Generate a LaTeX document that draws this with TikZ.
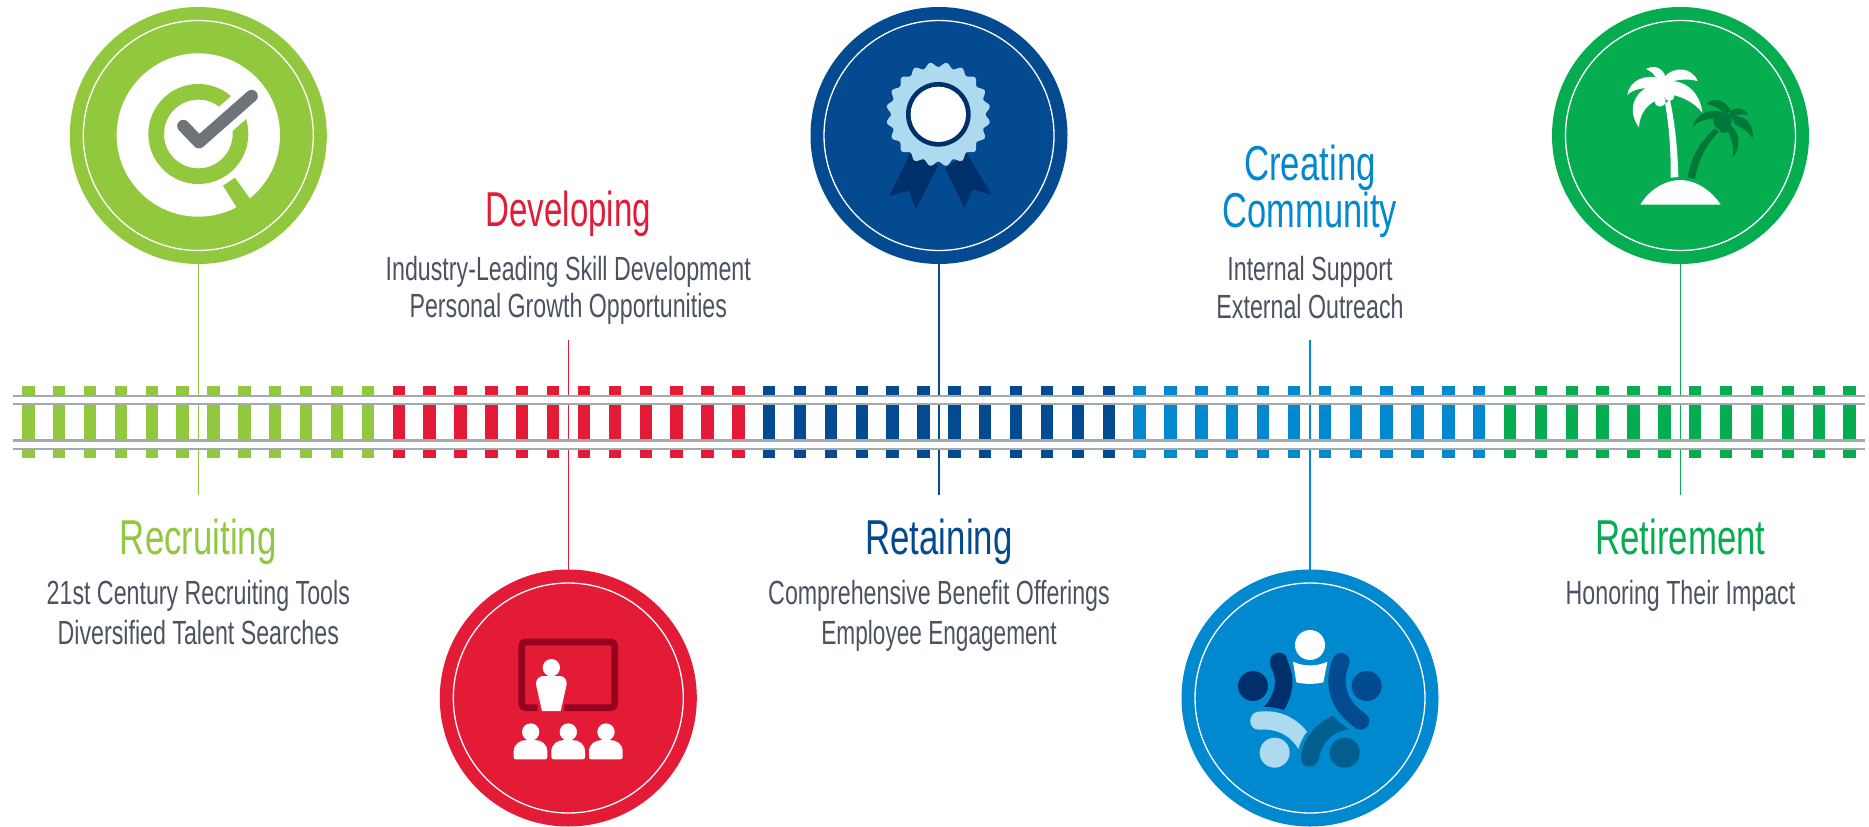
\documentclass[tikz,border=0pt]{standalone}
\usepackage{fontspec}
\newfontfamily\headf[FakeStretch=0.71]{Liberation Sans}
\newfontfamily\bodyf[FakeStretch=0.693]{Liberation Sans}
\definecolor{cgreen}{HTML}{92C83E}
\definecolor{cred}{HTML}{E31B37}
\definecolor{cblue}{HTML}{034A91}
\definecolor{csky}{HTML}{0089CE}
\definecolor{cpalm}{HTML}{05AD50}
\definecolor{crail}{HTML}{A2AAAF}
\definecolor{ctext}{HTML}{4B5360}
\definecolor{ccheck}{HTML}{6D757B}
\definecolor{cdkred}{HTML}{96031E}
\definecolor{cnavy}{HTML}{00306B}
\definecolor{cpale}{HTML}{AEDAF0}
\definecolor{cteal}{HTML}{005F8F}
\definecolor{cdkgreen}{HTML}{00783A}
\tikzset{
  bub/.style={circle,fill=#1,minimum size=257pt,inner sep=0pt,outer sep=0pt,draw=none,
    path picture={\draw[white,line width=1.3pt] (path picture bounding box.center) circle (115pt);}},
  head/.style={font=\headf\fontsize{49}{49}\selectfont,text=#1,anchor=base,inner sep=0pt,outer sep=0pt},
  body/.style={font=\bodyf\fontsize{33.5}{33.5}\selectfont,text=ctext,anchor=base,inner sep=0pt,outer sep=0pt},
  conn/.style={draw=#1,line width=1.4pt},
  ic/.style={x=0.33333pt,y=-0.33333pt}
}
\begin{document}
\begin{tikzpicture}[x=1pt,y=-1pt]
\useasboundingbox (0,0) rectangle (1869,827);
% circles
\node[bub=cgreen] (c1) at (198.3,135.5) {};
\node[bub=cred]   (c2) at (568.3,698) {};
\node[bub=cblue]  (c3) at (939,135.5) {};
\node[bub=csky]   (c4) at (1310,698) {};
\node[bub=cpalm]  (c5) at (1680.5,135.5) {};
% connector free ends
\coordinate (e1) at (198.3,495);
\coordinate (e2) at (568.3,340);
\coordinate (e3) at (939,495);
\coordinate (e4) at (1310,340);
\coordinate (e5) at (1680.5,495);
\draw[conn=cgreen] (c1.south) -- (e1);
\draw[conn=cred]   (c2.north) -- (e2);
\draw[conn=cblue]  (c3.south) -- (e3);
\draw[conn=csky]   (c4.north) -- (e4);
\draw[conn=cpalm]  (c5.south) -- (e5);
% ties
\foreach \i in {0,...,59}{
  \pgfmathtruncatemacro{\g}{int(\i/12)}
  \ifcase\g \def\tc{cgreen}\or \def\tc{cred}\or \def\tc{cblue}\or \def\tc{csky}\else \def\tc{cpalm}\fi
  \pgfmathsetmacro{\xx}{28.3+\i*30.87}
  \fill[\tc] (\xx-6.2,386) rectangle (\xx+6.2,458);
}
% rails
\fill[white] (13,396) rectangle (1865,404);
\fill[white] (13,441) rectangle (1865,449);
\fill[crail] (13,394.5) rectangle (1865,397);
\fill[crail] (13,402.5) rectangle (1865,405);
\fill[crail] (13,439) rectangle (1865,441.5);
\fill[crail] (13,447.5) rectangle (1865,450);
% labels
\node[head=cgreen] (t1) at (198.3,554) {Recruiting};
\node[body] (t1a) at (198.3,604) {21st Century Recruiting Tools};
\node[body] (t1b) at (198.3,644) {Diversified Talent Searches};
\node[head=cred] (t2) at (568.3,226.7) {\scalebox{0.95}[1]{Developing}};
\node[body] (t2a) at (568.3,280) {Industry-Leading Skill Development};
\node[body] (t2b) at (568.3,317.7) {Personal Growth Opportunities};
\node[head=cblue] (t3) at (939,554) {Retaining};
\node[body] (t3a) at (939,604) {Comprehensive Benefit Offerings};
\node[body] (t3b) at (939,644) {\scalebox{0.975}[1]{Employee Engagement}};
\node[head=csky] (t4) at (1310,180) {Creating};
\node[head=csky] (t4b) at (1310,227) {\scalebox{0.99}[1]{Community}};
\node[body] (t4c) at (1310,280) {Internal Support};
\node[body] (t4d) at (1310,318) {External Outreach};
\node[head=cpalm] (t5) at (1680.5,554) {Retirement};
\node[body] (t5a) at (1680.5,604) {Honoring Their Impact};
% --- icon 1
\begin{scope}[shift={(40,0)},ic]
  \fill[white] (475,405) circle (245);
  \fill[cgreen] (549,557) -- (585,533) -- (640,610) -- (598,635) -- cycle;
  \fill[cgreen,even odd rule] (475,402) circle (150) (475,402) circle (103);
  \draw[white,line width=27pt] (500,407) -- (650,275);
  \draw[ccheck,line width=12.3pt,line cap=round,line join=round] (430,378) -- (477,427) -- (635,288);
\end{scope}
% --- icon 2
\begin{scope}[shift={(420,560)},ic]
  \draw[cdkred,line width=6.8pt,rounded corners=4pt] (353,443) -- (305,443) -- (305,246) -- (584,246) -- (584,443) -- (433,443);
  \fill[white] (394,323) circle (26);
  \fill[white] (366,453) -- (349,378) .. controls (345,355) and (360,348) .. (372,348) -- (418,348) .. controls (430,348) and (443,355) .. (439,378) -- (422,453) -- cycle;
  \foreach \dx in {0,113,226}{
    \fill[white] (332+\dx,516) circle (26);
    \fill[white] (281+\dx,590) -- (281+\dx,575) .. controls (281+\dx,552) and (300+\dx,540) .. (320+\dx,540) -- (344+\dx,540) .. controls (364+\dx,540) and (382+\dx,552) .. (382+\dx,575) -- (382+\dx,590) .. controls (382+\dx,596) and (380+\dx,598) .. (375+\dx,598) -- (288+\dx,598) .. controls (283+\dx,598) and (281+\dx,596) .. (281+\dx,590) -- cycle;
  }
\end{scope}
% --- icon 3
\begin{scope}[shift={(790,0)},ic]
  \fill[cnavy] (360,460) -- (298,588) -- (357,572) -- (378,627) -- (445,495) -- cycle;
  \fill[cnavy] (530,460) -- (605,585) -- (547,568) -- (524,624) -- (465,505) -- cycle;
  \fill[cpale] plot[domain=0:360,samples=361,smooth] ({445+(149-7*cos(20*\x))*cos(\x)},{343+(149-7*cos(20*\x))*sin(\x)}) -- cycle;
  \fill[cnavy] (445,343) circle (97);
  \fill[white] (445,343) circle (83);
\end{scope}
% --- icon 4
\begin{scope}[shift={(1170,560)},ic]
  \fill[white] (420,255) circle (45);
  \fill[white] (369,305) .. controls (400,320) and (440,320) .. (472,305) -- (460,367) .. controls (435,373) and (405,373) .. (379,367) -- cycle;
  \fill[cnavy] (249,378) circle (45);
  \fill[cnavy] (300,305) .. controls (300,270) and (352,270) .. (352,302) .. controls (375,350) and (372,400) .. (342,450) .. controls (320,443) and (300,441) .. (282,440) .. controls (315,405) and (325,360) .. (303,322) .. controls (301,316) and (300,310) .. (300,305) -- cycle;
  \fill[cblue] (590,378) circle (45);
  \draw[cblue,line width=17.3pt,line cap=round] (513,305) .. controls (490,360) and (495,430) .. (572,483);
  \fill[cpale] (314,578) circle (45);
  \fill[cpale] (265,455) .. controls (325,448) and (375,470) .. (411,515) .. controls (398,530) and (390,550) .. (385,567) .. controls (360,525) and (320,505) .. (268,509) .. controls (232,510) and (232,458) .. (265,455) -- cycle;
  \fill[cteal] (524,578) circle (45);
  \fill[cteal] (393,595) .. controls (395,535) and (440,490) .. (490,467) .. controls (505,485) and (520,497) .. (536,507) .. controls (490,515) and (455,545) .. (447,595) .. controls (440,628) and (393,628) .. (393,595) -- cycle;
\end{scope}
% --- icon 5
\begin{scope}[shift={(1540,0)},ic]
  \fill[white] (301,614) .. controls (330,565) and (380,540) .. (421,540) .. controls (460,540) and (510,565) .. (542,614) -- cycle;
  \fill[white] (375,310) .. controls (388,380) and (393,460) .. (392,533) -- (415,531) .. controls (413,450) and (405,370) .. (390,300) -- cycle;
  \fill[white] (318,207) .. controls (345,192) and (375,205) .. (380,245) -- (350,240) .. controls (345,222) and (330,212) .. (318,207) -- cycle;
  \fill[white] (262,285) .. controls (268,240) and (320,218) .. (365,238) -- (360,268) .. controls (320,260) and (280,265) .. (262,285) -- cycle;
  \fill[white] (372,232) .. controls (400,198) and (455,200) .. (473,243) .. controls (440,235) and (400,238) .. (375,255) -- cycle;
  \fill[white] (345,250) .. controls (275,275) and (262,335) .. (297,382) .. controls (298,345) and (320,310) .. (358,298) -- cycle;
  \fill[white] (370,245) .. controls (440,232) and (482,285) .. (487,338) .. controls (465,310) and (430,290) .. (390,283) -- cycle;
  \fill[white] (360,303) circle (17);
  \fill[white] (388,288) circle (15);
  \fill[white] (368,265) circle (28);
  \fill[cdkgreen] (443,532) .. controls (453,470) and (480,425) .. (525,385) -- (537,395) .. controls (500,430) and (475,480) .. (465,537) -- cycle;
  \fill[cdkgreen] (498,312) .. controls (520,290) and (560,298) .. (575,338) -- (545,333) .. controls (535,322) and (515,315) .. (498,312) -- cycle;
  \fill[cdkgreen] (458,380) .. controls (468,342) and (510,322) .. (552,338) -- (545,358) .. controls (510,352) and (480,360) .. (458,380) -- cycle;
  \fill[cdkgreen] (568,335) .. controls (590,318) and (615,325) .. (625,345) .. controls (605,340) and (585,345) .. (570,355) -- cycle;
  \fill[cdkgreen] (575,348) .. controls (622,343) and (642,380) .. (638,415) .. controls (625,395) and (605,380) .. (585,375) -- cycle;
  \fill[cdkgreen] (568,375) .. controls (595,385) and (608,440) .. (578,472) .. controls (582,440) and (575,410) .. (558,385) -- cycle;
  \fill[cdkgreen] (548,362) circle (28);
  \fill[cdkgreen] (552,385) circle (15);
\end{scope}
\end{tikzpicture}
\end{document}
